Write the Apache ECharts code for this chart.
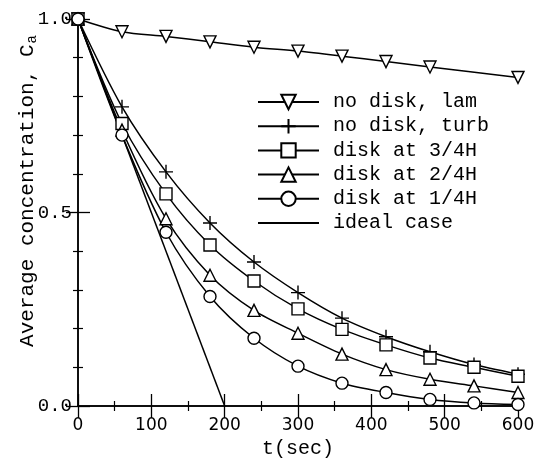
<!DOCTYPE html>
<html>
<head>
<meta charset="utf-8">
<script src="https://cdn.jsdelivr.net/npm/echarts@6/dist/echarts.min.js"></script>
<style>html,body{margin:0;padding:0;background:#fff}#c{width:543px;height:464px}</style>
</head>
<body>
<div id="c"></div>
<script>
var times = [0, 60, 120, 180, 240, 300, 360, 420, 480, 540, 600];
var lamTimes = [0, 60, 120, 180, 240, 300, 360, 420, 480, 600];
var noDiskLam = [1.0, 0.967, 0.955, 0.941, 0.927, 0.917, 0.904, 0.890, 0.876, 0.849];
var noDiskTurb = [1.0, 0.773, 0.605, 0.473, 0.372, 0.293, 0.227, 0.179, 0.140, 0.107, 0.082];
var disk34 = [1.0, 0.730, 0.548, 0.416, 0.323, 0.251, 0.198, 0.158, 0.124, 0.100, 0.077];
var disk24 = [1.0, 0.713, 0.484, 0.338, 0.247, 0.188, 0.134, 0.094, 0.069, 0.052, 0.035];
var disk14 = [1.0, 0.700, 0.449, 0.283, 0.175, 0.103, 0.059, 0.035, 0.017, 0.008, 0.004];
var idealTimes = [0, 200];
var ideal = [1.0, 0.0];
var names = ['no disk, lam', 'no disk, turb', 'disk at 3/4H', 'disk at 2/4H', 'disk at 1/4H', 'ideal case'];
var xTicks = [0, 100, 200, 300, 400, 500, 600];
var yTicks = [0.0, 0.5, 1.0];

function pairs(t, v) { return t.map(function (x, i) { return [x, v[i]]; }); }

var chart = echarts.init(document.getElementById('c'), null, {renderer: 'canvas'});
var mono = '"Liberation Mono", "Courier New", monospace';
var lineW = 1.5;
function mk(name, data, symbol, size, rotate) {
  return {
    name: name, type: 'line', data: data, smooth: 0.3,
    symbol: symbol, symbolSize: size, symbolRotate: rotate || 0, showSymbol: true,
    lineStyle: {color: '#000', width: lineW},
    itemStyle: {color: '#fff', borderColor: '#000', borderWidth: 1.4},
    emphasis: {disabled: true}, animation: false, z: 3
  };
}
var axisCommon = {
  type: 'value',
  axisLine: {show: true, lineStyle: {color: '#000', width: 1.5}},
  axisTick: {show: true, inside: true, length: 12, lineStyle: {color: '#000', width: 1.3}},
  minorTick: {show: true, length: 5, lineStyle: {color: '#000', width: 1.2}},
  splitLine: {show: false}
};
var plusPath = 'path://M0,5L10,5M5,0L5,10';

chart.setOption({
  backgroundColor: '#fff',
  animation: false,
  grid: {left: 78, right: 25, top: 19, bottom: 52},
  legend: {
    orient: 'vertical', left: 252, top: 87,
    itemWidth: 61, itemHeight: 18, itemGap: 4.2,
    data: names,
    textStyle: {fontFamily: mono, fontSize: 20, color: '#000', lineHeight: 18, padding: [0, 0, 0, 9]},
    selectedMode: false
  },
  xAxis: [
    Object.assign({}, axisCommon, {
      position: 'bottom', min: 0, max: 600, interval: 100,
      minorTick: Object.assign({}, axisCommon.minorTick, {splitNumber: 2}),
      axisLabel: {show: true, margin: 11, color: '#000', fontFamily: '"DejaVu Sans", sans-serif', fontSize: 17},
      name: 't(sec)', nameLocation: 'middle', nameGap: 33,
      nameTextStyle: {fontFamily: mono, fontSize: 20, color: '#000'}
    }),
    Object.assign({}, axisCommon, {
      position: 'top', min: 0, max: 600, interval: 100,
      minorTick: Object.assign({}, axisCommon.minorTick, {splitNumber: 2}),
      axisLabel: {show: false}
    })
  ],
  yAxis: [
    Object.assign({}, axisCommon, {
      position: 'left', min: 0, max: 1, interval: 0.5,
      minorTick: Object.assign({}, axisCommon.minorTick, {splitNumber: 5}),
      axisLabel: {show: true, margin: 6, color: '#000', fontFamily: mono, fontSize: 19,
        formatter: function (v) { return v.toFixed(1); }}
    }),
    Object.assign({}, axisCommon, {
      position: 'right', min: 0, max: 1, interval: 0.5,
      minorTick: Object.assign({}, axisCommon.minorTick, {splitNumber: 5}),
      axisLabel: {show: false}
    })
  ],
  graphic: [{
    type: 'text', x: 27, y: 191, rotation: Math.PI / 2,
    style: {
      text: 'Average concentration, C{sub|a}',
      fontFamily: mono, fontSize: 21, fill: '#000',
      align: 'center', verticalAlign: 'middle',
      rich: {sub: {fontFamily: mono, fontSize: 14, padding: [10, 0, 0, 1]}}
    }
  }],
  series: [
    mk(names[0], pairs(lamTimes, noDiskLam), 'triangle', 12, 180),
    mk(names[1], pairs(times, noDiskTurb), plusPath, 14),
    mk(names[2], pairs(times, disk34), 'rect', 12),
    mk(names[3], pairs(times, disk24), 'triangle', 12),
    mk(names[4], pairs(times, disk14), 'circle', 12),
    {
      name: names[5], type: 'line', data: pairs(idealTimes, ideal),
      symbol: 'circle', symbolSize: 0, showSymbol: false,
      lineStyle: {color: '#000', width: lineW},
      itemStyle: {color: 'rgba(0,0,0,0)', borderWidth: 0},
      emphasis: {disabled: true}, z: 2
    }
  ]
});
</script>
</body>
</html>
